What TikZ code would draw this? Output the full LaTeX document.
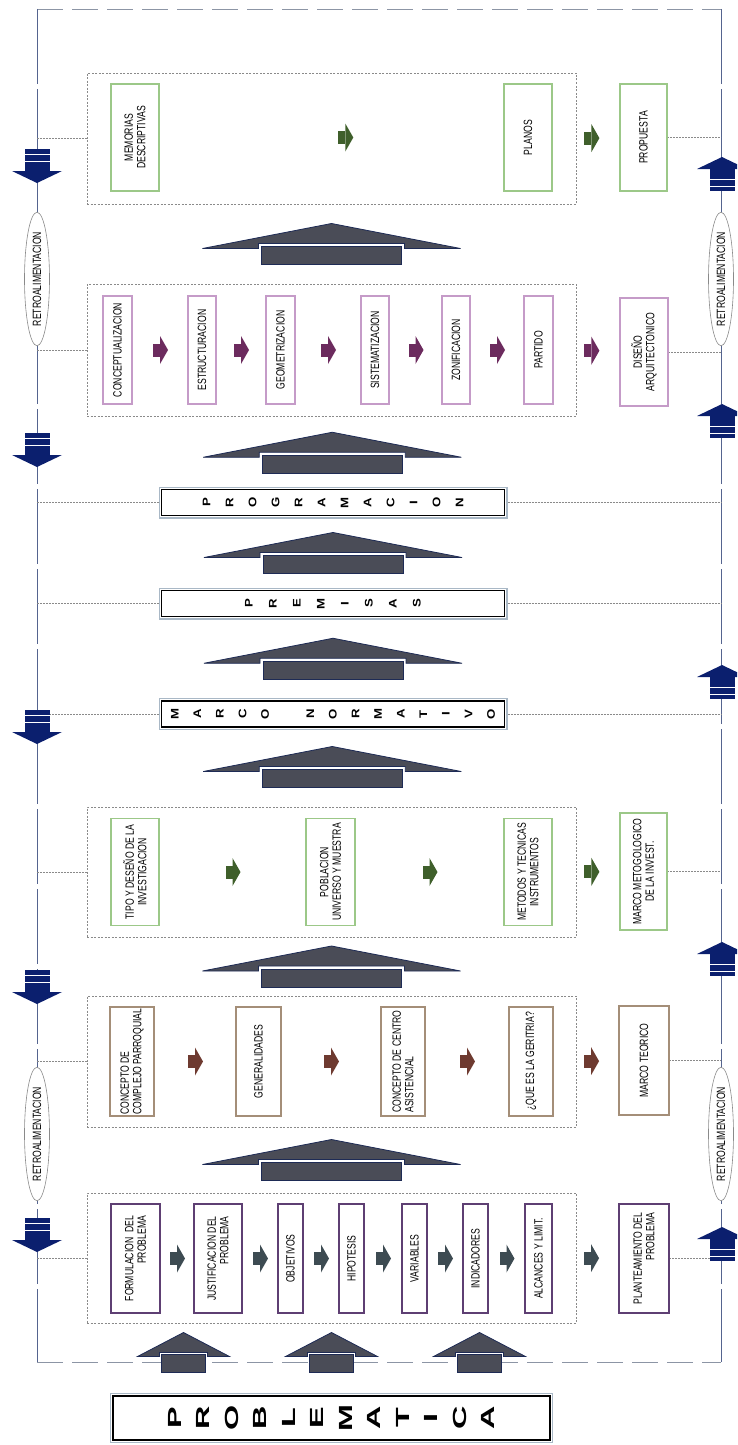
\documentclass[tikz,border=0pt]{standalone}
\usepackage{fontspec}
\setmainfont{Liberation Sans}
\newfontfamily\boxfont[FakeStretch=0.72]{Liberation Sans}
\newfontfamily\wordfont[FakeStretch=1.2]{Liberation Sans}
\newfontfamily\bigword[FakeStretch=1.7]{Liberation Sans}
\usetikzlibrary{shapes.geometric,calc}
\pgfdeclarelayer{bg}
\pgfsetlayers{bg,main}

\definecolor{navyarr}{HTML}{0B1F6E}
\definecolor{arrgray}{HTML}{4A4C57}
\definecolor{arrline}{HTML}{1E2B55}
\definecolor{framegray}{HTML}{8C95A5}
\definecolor{sideblue}{HTML}{55648F}
\definecolor{dotgray}{HTML}{8A8A8A}
\definecolor{boxpurple}{HTML}{5E3F73}
\definecolor{boxpink}{HTML}{C59BC8}
\definecolor{boxgreen}{HTML}{9CC888}
\definecolor{boxtan}{HTML}{A48E78}
\definecolor{arslate}{HTML}{3D4B52}
\definecolor{arbrown}{HTML}{6E3A30}
\definecolor{argreen}{HTML}{3F5F2B}
\definecolor{arpurple}{HTML}{6C2B5E}
\definecolor{steel}{HTML}{A9B8C6}

\tikzset{
    every node/.style={inner sep=0pt, outer sep=0pt},
    txt/.style={font=\boxfont\fontsize{12}{12.5}\selectfont},
    vbox/.style={txt, rotate=90, draw, fill=white, align=center, line width=1.3pt},
    gbox/.style={vbox, draw=boxgreen, minimum width=107pt},
    kbox/.style={vbox, draw=boxpink, minimum width=108pt},
    tbox/.style={vbox, draw=boxtan, minimum width=109pt},
    pbox/.style={vbox, draw=boxpurple, line width=1.9pt, minimum width=109pt},
    cont/.style={draw=dotgray, dash pattern=on 2pt off 1.5pt, line width=.6pt},
    dotline/.style={draw=dotgray, dash pattern=on 2pt off 1pt, line width=.6pt},
    wordbox/.style={rotate=90, align=center, fill=white, draw=black, line width=1.2pt,
        preaction={draw=steel, line width=6pt}, preaction={draw=white, line width=3.4pt},
        minimum width=26pt, minimum height=343pt,
        font=\wordfont\bfseries\fontsize{11}{23}\selectfont},
    retro/.style={ellipse, rotate=90, draw=dotgray, line width=.6pt, fill=white,
        minimum width=128pt, minimum height=25pt, txt},
    sarrow/.pic={
        \fill[#1] (-7,-6.5) rectangle (0,6.5);
        \fill[#1] (0,-14) -- (8,0) -- (0,14) -- cycle;
    },
    bigarr/.pic={
        \filldraw[fill=arrgray, draw=arrline, line width=.8pt] (0,-20.5) -- (129,4.5)
            -- (73,4.5) -- (73,-.5) -- (-73,-.5) -- (-73,4.5) -- (-129,4.5) -- cycle;
        \filldraw[fill=arrgray, draw=arrline, line width=.8pt] (-70,2.5) rectangle (70,20.5);
    },
    lowarr/.pic={
        \filldraw[fill=arrgray, draw=arrline, line width=.8pt] (0,-20) -- (46,4)
            -- (24,4) -- (24,0) -- (-24,0) -- (-24,4) -- (-46,4) -- cycle;
        \filldraw[fill=arrgray, draw=arrline, line width=.8pt] (-22,2) rectangle (22,20);
    },
    navyarr/.pic={
        \fill[navyarr] (-12.5,-17) rectangle (12.5,6);
        \fill[navyarr] (-25,5) -- (25,5) -- (0,17) -- cycle;
        \draw[white, line width=1pt] (-12.5,-12) -- (12.5,-12) (-12.5,-5) -- (12.5,-5);
    }
}

\begin{document}
\begin{tikzpicture}[x=1pt, y=-1pt]
  \useasboundingbox (0,0) rectangle (737,1445);
  \clip (0,0) rectangle (737,1445);

  \coordinate (tl) at (37,9);   \coordinate (tr) at (721,9);
  \coordinate (bl) at (37,1362); \coordinate (br) at (721,1362);
  \coordinate (lft) at (37,0);  \coordinate (rgt) at (721,0);

  % propuesta
  \node (c1) [cont, minimum width=489pt, minimum height=131pt] at (331.5,138.5) {};
  \node (m1) [gbox, minimum height=48pt] at (135,137.5) {MEMORIAS\\DESCRIPTIVAS};
  \node (m2) [gbox, minimum height=48pt] at (528,137.5) {PLANOS};
  \node (prop) [gbox, minimum height=47pt] at (643.5,137.5) {PROPUESTA};

  % diseno
  \node (c2) [cont, minimum width=489pt, minimum height=132pt] at (331.5,350) {};
  \node (d1) [kbox, minimum height=29pt] at (117.5,350) {CONCEPTUALIZACION};
  \node (d2) [kbox, minimum height=28pt] at (202,350) {ESTRUCTURACION};
  \node (d3) [kbox, minimum height=29pt] at (280.5,350) {GEOMETRIZACION};
  \node (d4) [kbox, minimum height=28pt] at (375,350) {SISTEMATIZACION};
  \node (d5) [kbox, minimum height=28pt] at (456,350) {ZONIFICACION};
  \node (d6) [kbox, minimum height=29pt] at (538.5,350) {PARTIDO};
  \node (dis) [kbox, minimum height=48pt] at (644,352) {DISEÑO\\ARQUITECTONICO};

  \node (prog) [wordbox] at (333,502.5) {P\\R\\O\\G\\R\\A\\M\\A\\C\\I\\O\\N};
  \node (prem) [wordbox, font=\wordfont\bfseries\fontsize{11}{24}\selectfont]
    at (333,603.5) {P\\R\\E\\M\\I\\S\\A\\S};
  \node (norm) [wordbox, font=\wordfont\bfseries\fontsize{11}{22.6}\selectfont]
    at (333,714) {M\\A\\R\\C\\O\\~\\N\\O\\R\\M\\A\\T\\I\\V\\O};

  % metodologia
  \node (c3) [cont, minimum width=489pt, minimum height=130pt] at (331.5,872) {};
  \node (i1) [gbox, minimum height=48pt] at (135,872) {TIPO Y DESEÑO DE LA\\INVESTIGACION};
  \node (i2) [gbox, minimum height=49pt] at (330.5,872) {POBLACION\\UNIVERSO Y MUESTRA};
  \node (i3) [gbox, minimum height=48pt] at (528,872) {METODOS Y TECNICAS\\INSTRUMENTOS};
  \node (mmet) [gbox, minimum height=47pt, minimum width=117pt] at (643.5,871.5)
    {MARCO METOGOLOGICO\\DE LA INVEST.};

  % teorico
  \node (c4) [cont, minimum width=489pt, minimum height=131pt] at (331.5,1061.5) {};
  \node (t1) [tbox, minimum height=44pt, align=left] at (132,1061.5) {CONCEPTO DE\\COMPLEJO PARROQUIAL};
  \node (t2) [tbox, minimum height=45pt] at (258.5,1061.5) {GENERALIDADES};
  \node (t3) [tbox, minimum height=44pt, align=left] at (403,1061.5) {CONCEPTO DE CENTRO\\ASISTENCIAL};
  \node (t4) [tbox, minimum height=44pt] at (531,1061.5) {¿QUE ES LA GERITRIA?};
  \node (mteo) [tbox, minimum height=50pt] at (644,1060.5) {MARCO TEORICO};

  % planteamiento
  \node (c5) [cont, minimum width=489pt, minimum height=130pt] at (331.5,1258) {};
  \node (f1) [pbox, minimum height=49pt, align=right] at (135.5,1258.5) {FORMULACION \ DEL\\PROBLEMA};
  \node (f2) [pbox, minimum height=48pt, align=right] at (218,1258.5) {JUSTIFICACION DEL\\PROBLEMA};
  \node (f3) [pbox, minimum height=25pt] at (290.5,1258.5) {OBJETIVOS};
  \node (f4) [pbox, minimum height=25pt] at (351.5,1258.5) {HIPOTESIS};
  \node (f5) [pbox, minimum height=25pt] at (414.5,1258.5) {VARIABLES};
  \node (f6) [pbox, minimum height=25pt] at (475.5,1258.5) {INDICADORES};
  \node (f7) [pbox, minimum height=27pt] at (538.5,1258.5) {ALCANCES Y LIMIT.};
  \node (plan) [pbox, minimum height=50pt, align=right] at (644,1258.5) {PLANTEAMIENTO DEL\\PROBLEMA};

  \node (prob) [wordbox, minimum width=44pt, minimum height=437pt,
    font=\bigword\bfseries\fontsize{19}{28.5}\selectfont]
    at (331.5,1418) {P\\R\\O\\B\\L\\E\\M\\A\\T\\I\\C\\A};

  \node (r1) [retro] at (37,279) {RETROALIMENTACION};
  \node (r2) [retro] at (721,279) {RETROALIMENTACION};
  \node (r3) [retro] at (37,1134) {RETROALIMENTACION};
  \node (r4) [retro] at (721,1134) {RETROALIMENTACION};

  \begin{pgfonlayer}{bg}
	  \draw[framegray, line width=.8pt, dash pattern=on 26pt off 9pt] (tl) edge (tr) (bl) edge (br);
	  \draw[sideblue, line width=.8pt, dash pattern=on 75pt off 5pt] (tl) edge (bl) (tr) edge (br);

	  \draw[dotline] (c1.west) edge (c1.west -| lft); \draw[dotline] (prop.south) edge (prop.south -| rgt);
	  \draw[dotline] (c2.west) edge (c2.west -| lft); \draw[dotline] (dis.south) edge (dis.south -| rgt);
	  \draw[dotline] (prog.north) edge (prog.north -| lft); \draw[dotline] (prog.south) edge (prog.south -| rgt);
	  \draw[dotline] (prem.north) edge (prem.north -| lft); \draw[dotline] (prem.south) edge (prem.south -| rgt);
	  \draw[dotline] (norm.north) edge (norm.north -| lft); \draw[dotline] (norm.south) edge (norm.south -| rgt);
	  \draw[dotline] (c3.west) edge (c3.west -| lft); \draw[dotline] (mmet.south) edge (mmet.south -| rgt);
	  \draw[dotline] (c4.west) edge (c4.west -| lft); \draw[dotline] (mteo.south) edge (mteo.south -| rgt);
	  \draw[dotline] (c5.west) edge (c5.west -| lft); \draw[dotline] (plan.south) edge (plan.south -| rgt);
  \end{pgfonlayer}

  % small arrows
  \pic at ($(m1.south)!.54!(m2.north)$) {sarrow=argreen};
  \pic at ($(c1.east)!.35!(prop.north)$) {sarrow=argreen};
  \foreach \a/\b in {d1/d2, d2/d3, d3/d4, d4/d5, d5/d6}
    \pic at ($(\a.south)!.5!(\b.north)$) {sarrow=arpurple};
  \pic at ($(c2.east)!.35!(dis.north)$) {sarrow=arpurple};
  \foreach \a/\b in {i1/i2, i2/i3}
    \pic at ($(\a.south)!.5!(\b.north)$) {sarrow=argreen};
  \pic at ($(c3.east)!.35!(mmet.north)$) {sarrow=argreen};
  \foreach \a/\b in {t1/t2, t2/t3, t3/t4}
    \pic at ($(\a.south)!.5!(\b.north)$) {sarrow=arbrown};
  \pic at ($(c4.east)!.35!(mteo.north)$) {sarrow=arbrown};
  \foreach \a/\b in {f1/f2, f2/f3, f3/f4, f4/f5, f5/f6, f6/f7}
    \pic at ($(\a.south)!.5!(\b.north)$) {sarrow=arslate};
  \pic at ($(c5.east)!.35!(plan.north)$) {sarrow=arslate};

  % big arrows
  \pic at ($(c1.south)!.5!(c2.north)$) {bigarr};
  \pic at ($(c2.south)!.5!(prog.east)$) {bigarr};
  \pic at ($(prog.west)!.5!(prem.east)$) {bigarr};
  \pic at ($(prem.west)!.5!(norm.east)$) {bigarr};
  \pic at ($(norm.west)!.5!(c3.north)$) {bigarr};
  \pic at ($(c3.south)!.5!(c4.north)$) {bigarr};
  \pic at ($(c4.south)!.5!(c5.north)$) {bigarr};
  \foreach \dx in {-148,0,148}
    \pic at ($($(c5.south)!.5!(prob.east)$)+(\dx,-7)$) {lowarr};

  % retroalimentacion
  \foreach \y in {166,450,727,987,1235}
    \pic at (37,\y) {navyarr};
  \foreach \y in {174,421,682,959,1244}
    \pic[yscale=-1] at (722,\y) {navyarr};

\end{tikzpicture}
\end{document}
